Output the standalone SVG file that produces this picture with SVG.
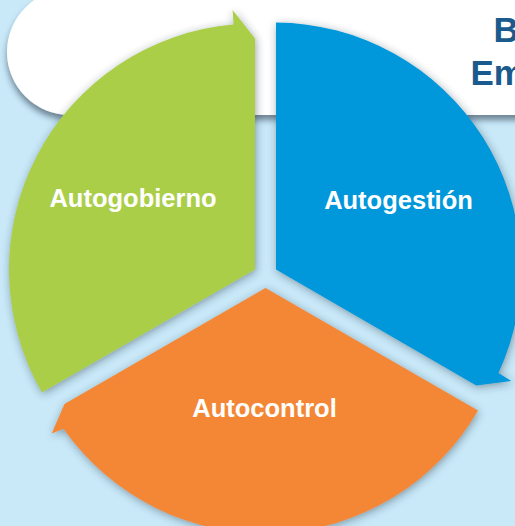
<svg xmlns="http://www.w3.org/2000/svg" width="515" height="526" viewBox="0 0 515 526">
  <defs>
    <filter id="segShadow" x="-20%" y="-20%" width="140%" height="140%">
      <feDropShadow dx="1" dy="2" stdDeviation="4" flood-color="#203040" flood-opacity="0.45"/>
    </filter>
    <filter id="bannerShadow" x="-10%" y="-20%" width="120%" height="150%">
      <feDropShadow dx="0" dy="5" stdDeviation="3" flood-color="#203040" flood-opacity="0.55"/>
    </filter>
  </defs>
  <style>
    .seg { filter: url(#segShadow); }
    .label { font-family: "Liberation Sans", Arial, sans-serif; font-weight: bold; font-size: 25.5px; fill: #ffffff; text-anchor: middle; }
    .title { font-family: "Liberation Sans", Arial, sans-serif; font-weight: bold; font-size: 35px; fill: #1B5A8C; }
  </style>
  <rect width="515" height="526" fill="#C9E9F9"/>
  <g id="banner">
    <path d="M70,-11 H540 V115 H70 A63,63 0 0 1 70,-11 Z" fill="#ffffff" filter="url(#bannerShadow)"/>
    <text class="title" x="493.5" y="41.5">B</text>
    <text class="title" x="470.5" y="85">Em</text>
  </g>
  <g id="connectors"/>
  <g id="autogobierno">
    <path class="seg" fill="#ABCE48" d="M255,269.5 L41.96,392.5 A246,246 0 0 1 233.56,24.44 L232.6,10 L255,38.5 Z"/>
    <text class="label" x="133" y="207">Autogobierno</text>
  </g>
  <g id="autogestion">
    <path class="seg" fill="#0098DA" d="M276,269.5 L276,22.5 A247,247 0 0 1 498.5,373 L511.3,381 L476.3,385.5 Z"/>
    <text class="label" x="398.5" y="208.5">Autogestión</text>
  </g>
  <g id="autocontrol">
    <path class="seg" fill="#F48735" d="M265.5,288 L478,410.5 A246,246 0 0 1 63.5,428.7 L51.7,433.5 L64.5,404 Z"/>
    <text class="label" x="264.5" y="417">Autocontrol</text>
  </g>
</svg>
